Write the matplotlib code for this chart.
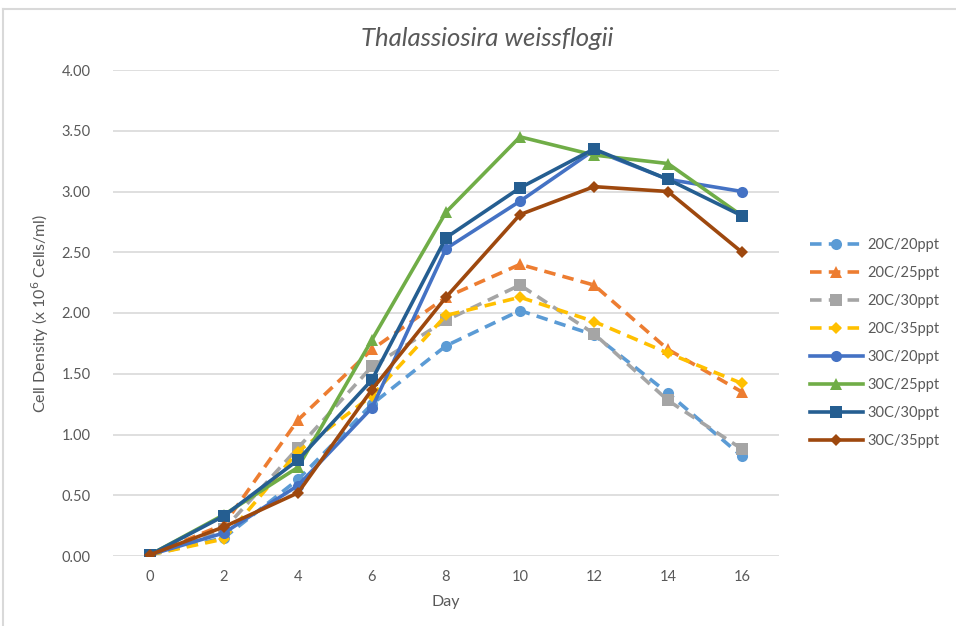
import matplotlib
matplotlib.use("Agg")
import matplotlib.pyplot as plt
from matplotlib.lines import Line2D

plt.rcParams['font.family'] = ['Lato', 'DejaVu Sans']

days = [0, 2, 4, 6, 8, 10, 12, 14, 16]
labels = ["20C/20ppt", "20C/25ppt", "20C/30ppt", "20C/35ppt",
          "30C/20ppt", "30C/25ppt", "30C/30ppt", "30C/35ppt"]

c20_20 = [0.01, 0.15, 0.63, 1.25, 1.73, 2.02, 1.82, 1.34, 0.82]
c20_25 = [0.01, 0.26, 1.12, 1.70, 2.13, 2.40, 2.23, 1.70, 1.35]
c20_30 = [0.01, 0.22, 0.89, 1.56, 1.94, 2.23, 1.83, 1.28, 0.88]
c20_35 = [0.01, 0.14, 0.86, 1.32, 1.98, 2.13, 1.93, 1.67, 1.42]
c30_20 = [0.01, 0.19, 0.58, 1.22, 2.53, 2.92, 3.34, 3.10, 3.00]
c30_25 = [0.01, 0.34, 0.73, 1.78, 2.83, 3.45, 3.30, 3.23, 2.80]
c30_30 = [0.01, 0.33, 0.79, 1.45, 2.62, 3.03, 3.35, 3.10, 2.80]
c30_35 = [0.01, 0.24, 0.52, 1.37, 2.13, 2.81, 3.04, 3.00, 2.50]

series = [c20_20, c20_25, c20_30, c20_35, c30_20, c30_25, c30_30, c30_35]
colors = ["#5B9BD5", "#ED7D31", "#A5A5A5", "#FFC000",
          "#4472C4", "#70AD47", "#255E91", "#9E480E"]
markers = ["o", "^", "s", "D", "o", "^", "s", "D"]
msizes = [8, 8, 8, 6.5, 8, 8, 8, 6.5]
dashed = [True, True, True, True, False, False, False, False]

W, H = 956, 626
fig = plt.figure(figsize=(W / 100, H / 100), dpi=100)

# plot area in pixel coordinates
left, right, top, bottom = 113, 779, 70, 556
ax = fig.add_axes([left / W, 1 - bottom / H, (right - left) / W, (bottom - top) / H])

handles = []
for y, col, m, ms, d, lab in zip(series, colors, markers, msizes, dashed, labels):
    ls = (0, (3.2, 2.0)) if d else "-"
    ln, = ax.plot(days, y, color=col, lw=2.6, linestyle=ls, marker=m,
                  markersize=ms, markeredgewidth=0, label=lab, zorder=3,
                  solid_joinstyle="round")
    handles.append(ln)

ax.set_xlim(-1, 17)
ax.set_ylim(0, 4.0)
ax.set_xticks(days)
ax.set_xticklabels([str(d) for d in days])
yt = [0, 0.5, 1.0, 1.5, 2.0, 2.5, 3.0, 3.5, 4.0]
ax.set_yticks(yt)
ax.set_yticklabels([f"{v:.2f}" for v in yt])
ax.grid(axis="y", color="#D9D9D9", lw=1.2, zorder=0)
for s in ax.spines.values():
    s.set_visible(False)
ax.tick_params(length=0, labelsize=10.5, colors="#595959")
ax.tick_params(axis="y", pad=16)
ax.tick_params(axis="x", pad=10)

ax.set_xlabel("Day", fontsize=11.5, color="#595959", labelpad=8)
ax.set_ylabel("Cell Density (x 10$^{6}$ Cells/ml)", fontsize=11.5, color="#595959", labelpad=8)

fig.text(487 / W, 1 - 38 / H, "Thalassiosira weissflogii", fontsize=18.5,
         style="italic", color="#595959", ha="center", va="center")

leg = fig.legend(handles=handles, loc="upper left",
                 bbox_to_anchor=(797 / W, 1 - 225 / H), frameon=False,
                 fontsize=10.5, handlelength=3.6, labelspacing=0.96,
                 handletextpad=0.3)
for t in leg.get_texts():
    t.set_color("#595959")

# chart frame edges
fig.add_artist(Line2D([3 / W, 1], [1 - 9 / H, 1 - 9 / H], color="#D9D9D9", lw=1.5))
fig.add_artist(Line2D([3 / W, 3 / W], [0, 1 - 9 / H], color="#D9D9D9", lw=1.5))

fig.savefig("out.png", dpi=100)
